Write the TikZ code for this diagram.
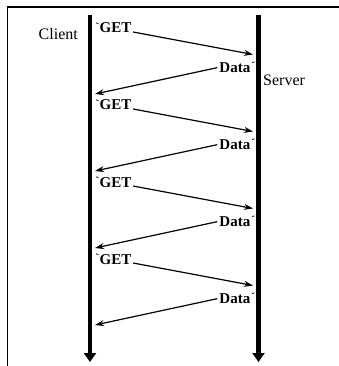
\documentclass[tikz,border=0pt]{standalone}
\usepackage{fontspec}
\setmainfont{Liberation Serif}
\usetikzlibrary{arrows.meta}

\begin{document}
\begin{tikzpicture}[x=1pt, y=-1pt,
lifeline/.style={line width=4.5pt, -{Triangle[length=9pt,width=12pt]}},
msg/.style={line width=1.2pt, -{Stealth[length=9pt,width=6pt]}},
req/.style={font=\fontsize{15}{17}\selectfont\bfseries, inner sep=0pt, anchor=base west},
resp/.style={font=\fontsize{15}{17}\selectfont\bfseries, inner sep=0pt, anchor=base east},
side/.style={font=\fontsize{16}{18}\selectfont, inner sep=0pt, anchor=base west},
tickmark/.style={line width=0.8pt},
]
\useasboundingbox (0,0) rectangle (339,366);

% frame (only top and left edges show)
\draw[line width=1.5pt] (7.5,366) -- (7.5,7) -- (339,7);

\coordinate (ctop) at (90,15);
\coordinate (cend) at (90,362);
\coordinate (stop) at (258.5,15);
\coordinate (send) at (258.5,362);

\draw[lifeline] (ctop) -- (cend);
\draw[lifeline] (stop) -- (send);

\node[side]   (client)  at (38.5,39.5)  {Client};
\node[side]   (server)  at (263,86)     {Server};

\node[req]    (get1)    at (99.5,33)    {GET};
\node[resp]   (data1)   at (250.5,72.5) {Data};
\node[req]    (get2)    at (99.5,110)   {GET};
\node[resp]   (data2)   at (250.5,149.5){Data};
\node[req]    (get3)    at (99.5,187)   {GET};
\node[resp]   (data3)   at (250.5,226.5){Data};
\node[req]    (get4)    at (99.5,264)   {GET};
\node[resp]   (data4)   at (250.5,303.5){Data};

\coordinate (s1) at (253,54.5);
\coordinate (c1) at (95,94);
\coordinate (s2) at (253,131.5);
\coordinate (c2) at (95,171);
\coordinate (s3) at (253,208.5);
\coordinate (c3) at (95,248);
\coordinate (s4) at (253,285.5);
\coordinate (c4) at (95,325);

\draw[msg] ([xshift=1.5pt,yshift=1pt]get1.base east) -- (s1);
\draw[msg] ([xshift=-2pt]data1.west) -- (c1);
\draw[msg] ([xshift=1.5pt,yshift=1pt]get2.base east) -- (s2);
\draw[msg] ([xshift=-2pt]data2.west) -- (c2);
\draw[msg] ([xshift=1.5pt,yshift=1pt]get3.base east) -- (s3);
\draw[msg] ([xshift=-2pt]data3.west) -- (c3);
\draw[msg] ([xshift=1.5pt,yshift=1pt]get4.base east) -- (s4);
\draw[msg] ([xshift=-2pt]data4.west) -- (c4);

% little ticks beside the labels
\draw[tickmark] ([xshift=-3.5pt]get1.north west) -- ++(2.5,0.6);
\draw[tickmark] ([xshift=-3.5pt]get2.north west) -- ++(2.5,0.6);
\draw[tickmark] ([xshift=-3.5pt]get3.north west) -- ++(2.5,0.6);
\draw[tickmark] ([xshift=-3.5pt]get4.north west) -- ++(2.5,0.6);
\draw[tickmark] ([xshift=1.5pt]data1.north east) -- ++(2.5,-0.6);
\draw[tickmark] ([xshift=1.5pt]data2.north east) -- ++(2.5,-0.6);
\draw[tickmark] ([xshift=1.5pt]data3.north east) -- ++(2.5,-0.6);
\draw[tickmark] ([xshift=1.5pt]data4.north east) -- ++(2.5,-0.6);

\end{tikzpicture}
\end{document}
